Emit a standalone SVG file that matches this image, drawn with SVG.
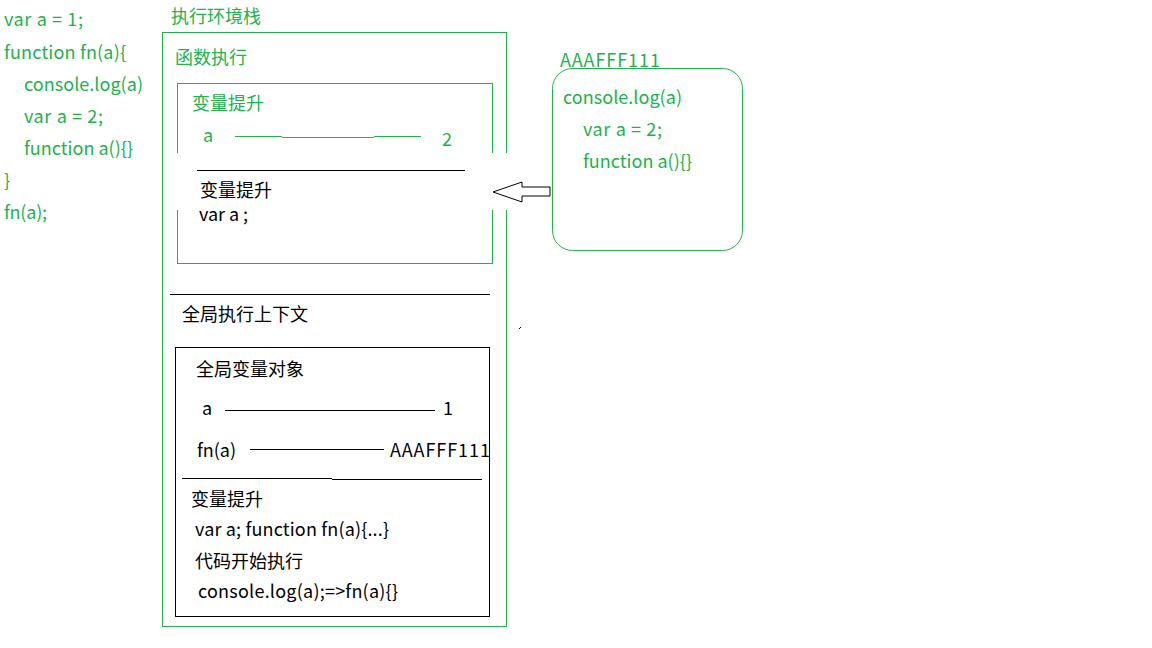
<svg xmlns="http://www.w3.org/2000/svg" width="1152" height="648" viewBox="0 0 1152 648">
<style>
text{font-family:"Noto Sans CJK SC","Liberation Sans",sans-serif;font-size:18px}
.g{fill:#22b14c}
.k{fill:#000}
.gb{fill:none;stroke:#22b14c;stroke-width:1}
.kb{fill:none;stroke:#000;stroke-width:1}
.gl{stroke:#22b14c;stroke-width:1}
.kl{stroke:#000;stroke-width:1}
</style>
<rect width="1152" height="648" fill="#fff"/>
<g id="code">
<text class="g" x="4" y="26" textLength="79" lengthAdjust="spacing">var a = 1;</text>
<text class="g" x="4" y="59" textLength="122" lengthAdjust="spacing">function fn(a){</text>
<text class="g" x="24" y="91" textLength="119" lengthAdjust="spacing">console.log(a)</text>
<text class="g" x="24" y="123" textLength="79" lengthAdjust="spacing">var a = 2;</text>
<text class="g" x="24" y="155" textLength="109" lengthAdjust="spacing">function a(){}</text>
<text class="g" x="4" y="187">}</text>
<text class="g" x="4" y="219" textLength="43" lengthAdjust="spacing">fn(a);</text>
</g>
<g id="stack">
<text class="g" x="171" y="23">执行环境栈</text>
<rect class="gb" x="162.5" y="32.5" width="344" height="594"/>
<text class="g" x="175" y="64">函数执行</text>
</g>
<g id="fn-context">
<rect class="gb" x="177.5" y="83.5" width="315" height="180"/>
<text class="g" x="192" y="110">变量提升</text>
<text class="g" x="203" y="142">a</text>
<text class="g" x="442" y="146" font-size="19">2</text>
<rect x="170" y="153" width="342" height="57" fill="#fff"/>
<line class="kl" x1="197" y1="170.5" x2="465" y2="170.5"/>
<text class="k" x="200" y="197">变量提升</text>
<text class="k" x="199" y="221" textLength="49" lengthAdjust="spacing">var a ;</text>
</g>
<g id="global-context">
<line class="kl" x1="170" y1="294.5" x2="490" y2="294.5"/>
<text class="k" x="182" y="321">全局执行上下文</text>
<rect class="kb" x="175.5" y="347.5" width="314" height="269"/>
<text class="k" x="196" y="376">全局变量对象</text>
<text class="k" x="202" y="415">a</text>
<text class="k" x="443" y="415">1</text>
<text class="k" x="197" y="457" textLength="39" lengthAdjust="spacing">fn(a)</text>
<text class="k" x="390" y="457" textLength="100" lengthAdjust="spacing">AAAFFF111</text>
<line class="kl" x1="182" y1="478.5" x2="332" y2="478.5"/>
<line class="kl" x1="332" y1="479.5" x2="482" y2="479.5"/>
<text class="k" x="191" y="506">变量提升</text>
<text class="k" x="195" y="536" textLength="194" lengthAdjust="spacing">var  a; function fn(a){...}</text>
<text class="k" x="195" y="568">代码开始执行</text>
<text class="k" x="198" y="598" textLength="200" lengthAdjust="spacing">console.log(a);=&gt;fn(a){}</text>
</g>
<g id="fn-object">
<text class="g" x="560" y="67" textLength="100" lengthAdjust="spacing">AAAFFF111</text>
<rect class="gb" x="552.5" y="68.5" width="190" height="182" rx="20" ry="20"/>
<text class="g" x="563" y="104" textLength="119" lengthAdjust="spacing">console.log(a)</text>
<text class="g" x="583" y="136" textLength="79" lengthAdjust="spacing">var a = 2;</text>
<text class="g" x="583" y="168" textLength="109" lengthAdjust="spacing">function a(){}</text>
</g>
<g id="connectors">
<line class="gl" x1="235" y1="136.5" x2="282" y2="136.5"/>
<line class="gl" x1="282" y1="137.5" x2="374" y2="137.5"/>
<line class="gl" x1="374" y1="136.5" x2="421" y2="136.5"/>
<line class="kl" x1="225" y1="410.5" x2="435" y2="410.5"/>
<line class="kl" x1="250" y1="449.5" x2="384" y2="449.5"/>
<polygon points="493,192 522,182 522,187 550,187 550,196 522,196 522,202" fill="#fff" stroke="#000" stroke-width="1"/>
<line class="kl" x1="519" y1="329" x2="521" y2="327"/>
</g>
</svg>
